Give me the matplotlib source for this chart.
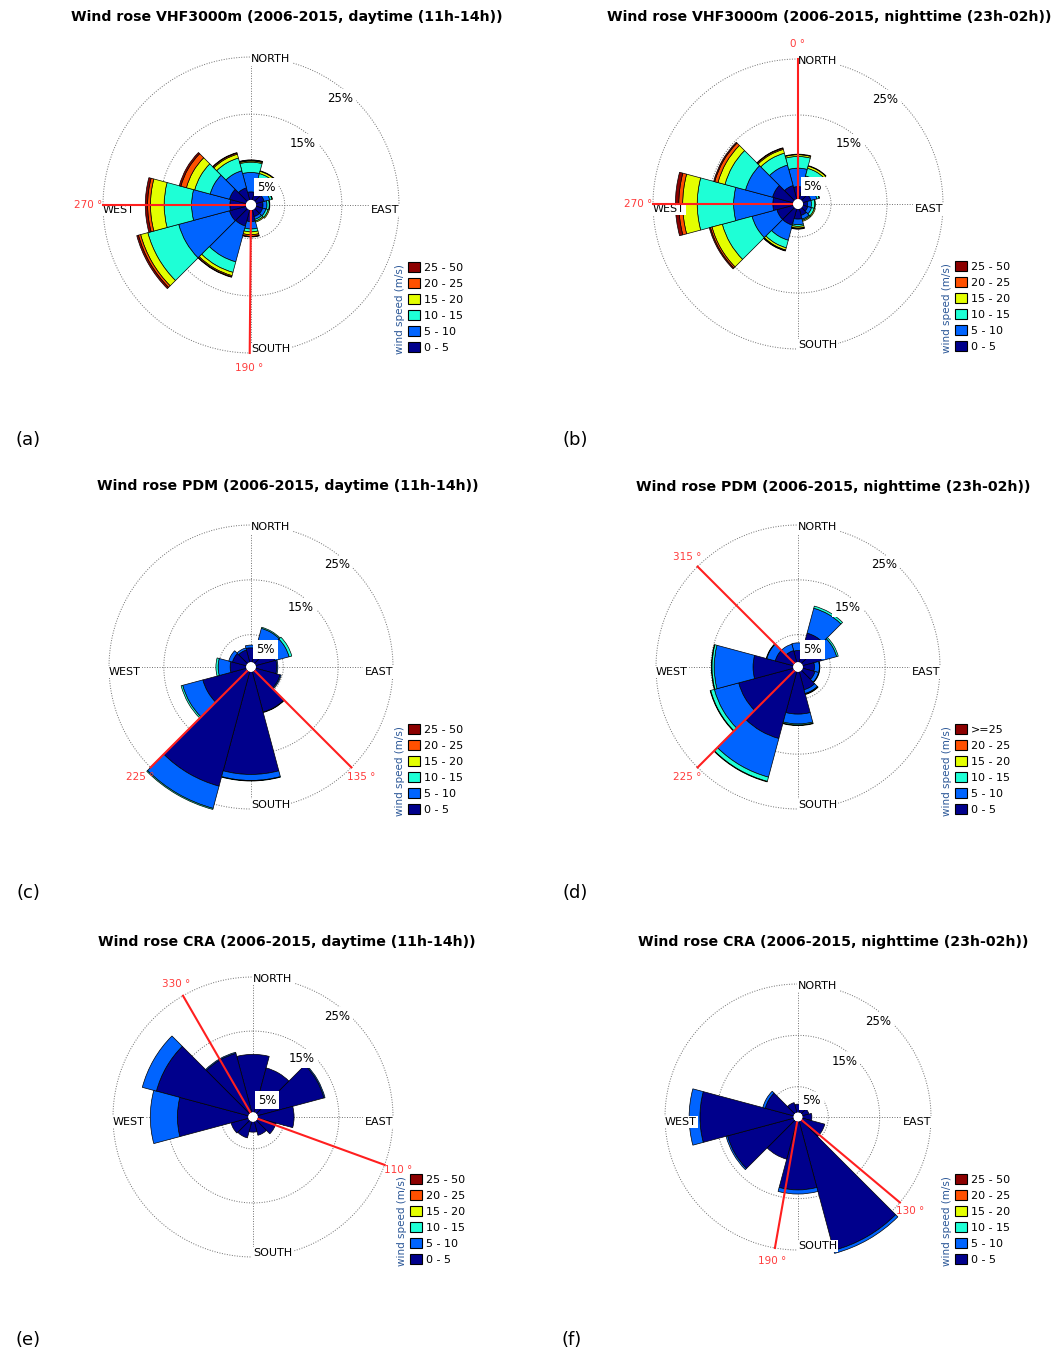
import numpy as np
import matplotlib.pyplot as plt
from matplotlib.patches import Patch

FIG_W, FIG_H = 1060, 1355

# sectors: 30 degree bins, north first, clockwise
sector_deg = np.arange(0, 360, 30)
class_labels = ['0 - 5', '5 - 10', '10 - 15', '15 - 20', '20 - 25', '25 - 50']
class_labels_ge = ['0 - 5', '5 - 10', '10 - 15', '15 - 20', '20 - 25', '>=25']
class_colors = ['#00008c', '#0064ff', '#1effd6', '#e4ff00', '#ff5000', '#8c0000']
ring_levels = [5, 15, 25]

# frequency (%) per speed class (rows, 0-5 m/s first) and sector (columns)
vhf_day = [
    [1.4, 1.5, 1.5, 1.2, 1.2, 1.2, 2.0, 2.9, 3.0, 2.8, 3.0, 2.2],
    [3.4, 2.4, 1.0, 0.7, 0.6, 0.5, 1.3, 6.5, 9.2, 6.7, 3.5, 3.1],
    [1.8, 0.9, 0.4, 0.4, 0.4, 0.3, 0.5, 1.9, 5.6, 4.8, 2.8, 2.3],
    [0.2, 0.4, 0.1, 0.1, 0.2, 0.2, 0.5, 0.6, 1.3, 2.4, 1.5, 0.7],
    [0.1, 0.1, 0.0, 0.0, 0.0, 0.0, 0.3, 0.2, 0.4, 0.5, 1.0, 0.2],
    [0.1, 0.0, 0.0, 0.0, 0.0, 0.0, 0.1, 0.1, 0.3, 0.4, 0.3, 0.1],
]
vhf_night = [
    [2.2, 1.8, 1.5, 0.8, 0.9, 1.2, 1.8, 3.0, 3.0, 3.6, 3.8, 2.5],
    [3.3, 2.5, 1.1, 0.7, 0.7, 0.7, 1.0, 2.8, 4.6, 7.0, 5.0, 3.8],
    [2.1, 1.4, 0.4, 0.6, 0.5, 0.2, 0.3, 1.4, 5.5, 6.5, 3.8, 2.2],
    [0.3, 0.4, 0.1, 0.1, 0.2, 0.2, 0.3, 0.4, 1.9, 2.6, 1.3, 0.7],
    [0.1, 0.1, 0.0, 0.0, 0.0, 0.0, 0.1, 0.1, 0.3, 0.7, 0.6, 0.2],
    [0.0, 0.0, 0.0, 0.0, 0.0, 0.0, 0.1, 0.1, 0.2, 0.6, 0.2, 0.1],
]
pdm_day = [
    [2.6, 2.5, 3.6, 3.8, 4.6, 7.6, 18.7, 21.6, 8.2, 2.9, 2.6, 2.3],
    [0.5, 3.9, 2.7, 0.2, 0.2, 0.1, 1.1, 4.2, 3.8, 2.2, 0.7, 0.4],
    [0.0, 0.2, 0.5, 0.0, 0.0, 0.0, 0.1, 0.2, 0.3, 0.4, 0.0, 0.0],
    [0.0] * 12,
    [0.0] * 12,
    [0.0] * 12,
]
pdm_night = [
    [2.1, 5.5, 3.5, 2.1, 2.3, 3.4, 7.7, 12.6, 10.3, 7.3, 3.4, 2.2],
    [1.4, 4.7, 2.9, 0.9, 0.7, 0.7, 1.8, 7.3, 4.6, 7.1, 1.6, 1.2],
    [0.0, 0.4, 0.3, 0.1, 0.1, 0.1, 0.2, 0.8, 0.7, 0.4, 0.1, 0.0],
    [0.0, 0.0, 0.0, 0.0, 0.0, 0.1, 0.1, 0.1, 0.1, 0.1, 0.0, 0.0],
    [0.0] * 12,
    [0.0] * 12,
]
cra_day = [
    [10.7, 8.5, 12.7, 6.7, 3.5, 2.6, 1.9, 3.1, 3.3, 13.1, 17.6, 11.3],
    [0.0, 0.0, 0.2, 0.0, 0.0, 0.0, 0.0, 0.0, 0.0, 5.0, 2.7, 0.2],
    [0.0] * 12,
    [0.0] * 12,
    [0.0] * 12,
    [0.0] * 12,
]
cra_night = [
    [1.6, 1.4, 1.3, 1.8, 4.5, 26.0, 13.3, 7.6, 13.3, 18.2, 5.7, 2.0],
    [0.0, 0.0, 0.0, 0.0, 0.0, 0.6, 0.8, 0.0, 0.3, 2.1, 0.5, 0.0],
    [0.0] * 12,
    [0.0] * 12,
    [0.0] * 12,
    [0.0] * 12,
]

# red direction markers (angle drawn, label text)
vhf_day_lines = [270, 180.5]
vhf_day_texts = ['270 °', '190 °']
vhf_night_lines = [0, 270]
vhf_night_texts = ['0 °', '270 °']
pdm_day_lines = [225, 135]
pdm_day_texts = ['225 °', '135 °']
pdm_night_lines = [315, 225]
pdm_night_texts = ['315 °', '225 °']
cra_day_lines = [330, 110]
cra_day_texts = ['330 °', '110 °']
cra_night_lines = [190, 130]
cra_night_texts = ['190 °', '130 °']

titles = [
    'Wind rose VHF3000m (2006-2015, daytime (11h-14h))',
    'Wind rose VHF3000m (2006-2015, nighttime (23h-02h))',
    'Wind rose PDM (2006-2015, daytime (11h-14h))',
    'Wind rose PDM (2006-2015, nighttime (23h-02h))',
    'Wind rose CRA (2006-2015, daytime (11h-14h))',
    'Wind rose CRA (2006-2015, nighttime (23h-02h))',
]
letters = ['(a)', '(b)', '(c)', '(d)', '(e)', '(f)']

RMAX = 28.0
HOLE = 0.9


def draw_rose(fig, cx, cy, r25, freqs, lines, texts, leg_labels):
    # radius of the axes in pixels so that the 25% ring lands at r25
    rad_px = r25 * (RMAX + HOLE) / (25 + HOLE)
    ax = fig.add_axes([(cx - rad_px) / FIG_W, 1 - (cy + rad_px) / FIG_H,
                       2 * rad_px / FIG_W, 2 * rad_px / FIG_H], projection='polar')
    ax.set_theta_zero_location('N')
    ax.set_theta_direction(-1)
    ax.set_ylim(0, RMAX)
    ax.set_rorigin(-HOLE)
    ax.set_axis_off()

    dotted = dict(color='#6f6f6f', lw=0.7, ls=(0, (1, 1.6)), zorder=1)
    th = np.linspace(0, 2 * np.pi, 361)
    for lev in ring_levels:
        ax.plot(th, np.full_like(th, lev), **dotted)
    for a in [0, 90, 180, 270]:
        ax.plot([np.radians(a)] * 2, [0, 25], **dotted)

    theta = np.radians(sector_deg)
    bottom = np.zeros(len(sector_deg))
    for row, col in zip(freqs, class_colors):
        vals = np.array(row, dtype=float)
        m = vals > 0
        ax.bar(theta[m], vals[m], width=np.radians(30), bottom=bottom[m],
               color=col, edgecolor='black', linewidth=0.5, zorder=2)
        bottom += vals

    box = dict(facecolor='white', edgecolor='none', pad=1.0)
    fs = 8
    ax.text(0, 24.6, 'NORTH', ha='left', va='center', fontsize=fs, bbox=box, zorder=3)
    ax.text(np.radians(90), 25, 'EAST', ha='right', va='top', fontsize=fs, bbox=box, zorder=3)
    ax.text(np.radians(270), 25, 'WEST', ha='left', va='top', fontsize=fs, bbox=box, zorder=3)
    ax.text(np.radians(180), 25.2, 'SOUTH', ha='left', va='bottom', fontsize=fs, bbox=box, zorder=3)
    for lev, rr in zip(ring_levels, [3.2, 13.2, 23.4]):
        ax.text(np.radians(40), rr, '%d%%' % lev, ha='center', va='center',
                fontsize=8.5, bbox=dict(facecolor='white', edgecolor='none', pad=2.0), zorder=3)

    for a, t in zip(lines, texts):
        ax.plot([np.radians(a)] * 2, [0, 25], color='#ff1f1f', lw=1.5, zorder=4)
        ax.text(np.radians(a), 27.6, t, color='#ff3b3b', fontsize=7.5,
                ha='center', va='center', zorder=4)

    handles = [Patch(facecolor=c, edgecolor='black', linewidth=0.8)
               for c in class_colors[::-1]]
    fig.legend(handles, leg_labels[::-1], loc='upper left',
               bbox_to_anchor=((cx + 157) / FIG_W, 1 - (cy + 57) / FIG_H),
               frameon=False, fontsize=8, handlelength=1.1, handleheight=1.05,
               handletextpad=0.3, labelspacing=0.45, borderpad=0, borderaxespad=0)
    fig.text((cx + 149) / FIG_W, 1 - (cy + 104) / FIG_H, 'wind speed (m/s)',
             rotation=90, ha='center', va='center', fontsize=7.5, color='#2b5797')
    return ax


fig = plt.figure(figsize=(FIG_W / 100, FIG_H / 100), dpi=100)

draw_rose(fig, 251, 205, 148, vhf_day, vhf_day_lines, vhf_day_texts, class_labels)
draw_rose(fig, 798, 204, 145, vhf_night, vhf_night_lines, vhf_night_texts, class_labels)
draw_rose(fig, 251, 667, 142, pdm_day, pdm_day_lines, pdm_day_texts, class_labels)
draw_rose(fig, 798, 667, 142, pdm_night, pdm_night_lines, pdm_night_texts, class_labels_ge)
draw_rose(fig, 253, 1117, 140, cra_day, cra_day_lines, cra_day_texts, class_labels)
draw_rose(fig, 798, 1117, 133, cra_night, cra_night_lines, cra_night_texts, class_labels)

title_xy = [(287, 17), (829, 17), (288, 486), (833, 487), (287, 942), (833, 942)]
letter_xy = [(28, 440), (575, 440), (28, 893), (575, 893), (28, 1340), (572, 1340)]
for t, (x, y) in zip(titles, title_xy):
    fig.text(x / FIG_W, 1 - y / FIG_H, t, ha='center', va='center',
             fontsize=10.2, fontweight='bold')
for t, (x, y) in zip(letters, letter_xy):
    fig.text(x / FIG_W, 1 - y / FIG_H, t, ha='center', va='center', fontsize=13)

fig.savefig('out.png', dpi=100)
